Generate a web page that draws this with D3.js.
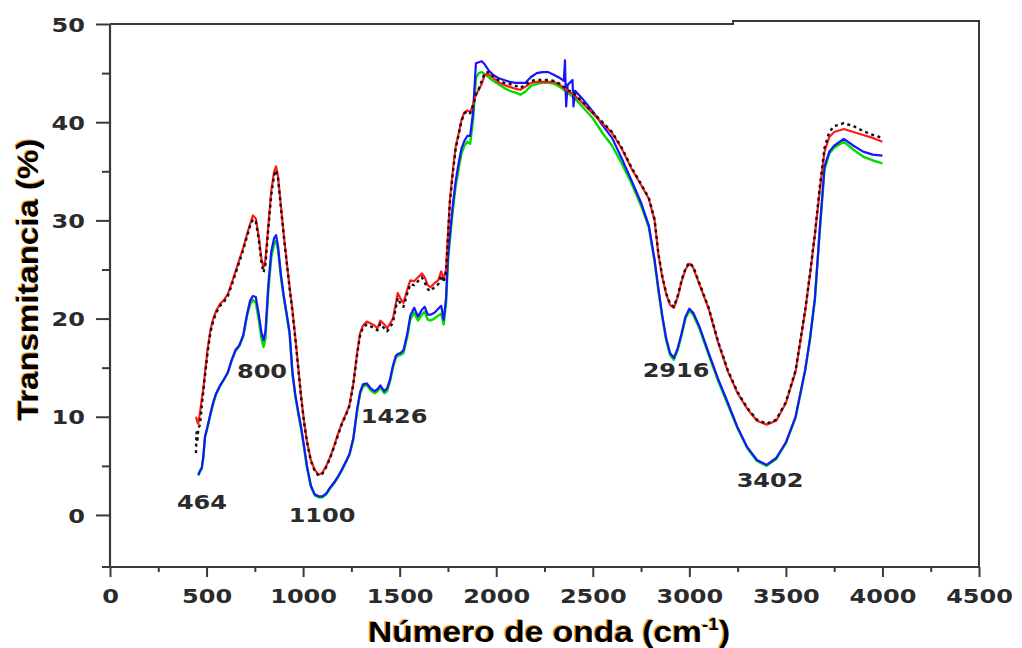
<!DOCTYPE html>
<html>
<head>
<meta charset="utf-8">
<script src="https://cdn.jsdelivr.net/npm/d3@7"></script>
<style>
  body { margin: 0; background: #fff; }
  .tick-label { font-family: "DejaVu Sans", Verdana, sans-serif; font-weight: bold; font-size: 20px; fill: #2b2b2b; }
  .title { font-family: "Liberation Sans", Arial, sans-serif; font-weight: bold; font-size: 30px; }
</style>
</head>
<body>
<svg id="chart" width="1022" height="648"></svg>
<script>
// Wavenumbers (cm-1) shared by the four spectra
const wavenumbers = [445, 448, 452, 457, 466, 475, 483, 492, 505, 520, 535, 550, 570, 590, 610, 630, 650, 670, 690, 710,
    725, 740, 755, 770, 785, 795, 805, 820, 835, 850, 860, 870, 885, 900, 915, 930, 945, 960, 975, 990,
    1005, 1020, 1040, 1060, 1080, 1100, 1120, 1140, 1160, 1180, 1200, 1220, 1240, 1260, 1280, 1295, 1310, 1330, 1350, 1370,
    1385, 1400, 1420, 1435, 1450, 1465, 1480, 1490, 1505, 1520, 1540, 1555, 1575, 1595, 1615, 1630, 1645, 1660, 1680, 1700,
    1715, 1728, 1740, 1750, 1760, 1775, 1790, 1805, 1820, 1835, 1850, 1865, 1880, 1895, 1910, 1925, 1940, 1960, 1985, 2010,
    2040, 2070, 2100, 2125, 2150, 2180, 2210, 2240, 2270, 2300, 2330, 2350, 2356, 2362, 2370, 2395, 2400, 2408, 2450, 2500,
    2550, 2600, 2650, 2700, 2750, 2790, 2820, 2840, 2860, 2880, 2900, 2920, 2940, 2960, 2980, 3000, 3020, 3050, 3100, 3150,
    3200, 3250, 3300, 3350, 3400, 3450, 3500, 3550, 3600, 3625, 3650, 3675, 3700, 3725, 3750, 3800, 3850, 3900, 3950, 4000];

// Transmittance (%) of each sample
const red = [10.0, 9.8, 9.5, 9.3, 10.4, 11.8, 12.8, 14.5, 16.8, 18.8, 20.0, 20.8, 21.5, 21.9, 22.5, 23.6, 24.8, 26.0, 27.2, 28.6,
    29.6, 30.5, 30.2, 28.4, 26.0, 25.2, 26.0, 29.5, 33.0, 35.0, 35.5, 34.5, 31.5, 28.5, 25.8, 23.2, 20.8, 18.0, 15.0, 12.0,
    9.5, 7.5, 5.6, 4.6, 4.1, 4.3, 5.0, 5.9, 7.0, 8.2, 9.3, 10.2, 11.2, 13.4, 16.5, 18.5, 19.3, 19.7, 19.5, 19.3,
    19.0, 19.8, 19.4, 19.0, 19.5, 20.0, 21.5, 22.6, 22.0, 21.6, 23.0, 23.9, 23.8, 24.2, 24.6, 24.2, 23.4, 23.2, 23.6, 23.9,
    24.8, 24.0, 25.0, 28.5, 32.0, 35.0, 37.5, 38.8, 40.2, 41.0, 41.2, 41.0, 41.8, 42.8, 43.3, 43.9, 44.8, 44.9, 44.5, 44.1,
    43.8, 43.6, 43.4, 43.3, 43.6, 44.0, 44.1, 44.1, 44.1, 44.1, 43.8, 43.5, 43.4, 43.3, 43.2, 42.9, 42.8, 42.7, 41.9, 40.9,
    39.9, 38.9, 37.3, 35.3, 33.6, 32.2, 30.0, 26.5, 24.2, 22.5, 21.4, 21.1, 22.2, 23.8, 25.0, 25.6, 25.2, 23.6, 21.0, 17.5,
    14.6, 12.4, 10.8, 9.6, 9.2, 9.6, 11.4, 14.6, 20.8, 24.5, 28.5, 33.0, 37.0, 38.5, 39.0, 39.3, 39.0, 38.7, 38.4, 38.0];

const black = [6.3, 8.4, 7.4, 8.8, 9.2, 11.0, 12.6, 14.2, 16.5, 18.6, 19.8, 20.6, 21.3, 21.7, 22.3, 23.4, 24.6, 25.8, 27.0, 28.4,
    29.4, 30.1, 29.9, 28.1, 25.6, 24.7, 25.5, 29.2, 32.6, 34.6, 35.1, 34.3, 31.3, 28.4, 25.7, 23.1, 20.7, 17.9, 14.9, 11.9,
    9.4, 7.4, 5.5, 4.5, 4.0, 4.2, 4.9, 5.8, 6.9, 8.1, 9.2, 10.1, 11.1, 13.3, 16.4, 18.3, 19.1, 19.4, 19.2, 19.0,
    18.8, 19.5, 19.0, 18.7, 19.1, 19.6, 21.1, 22.1, 21.5, 21.2, 22.6, 23.5, 23.4, 23.8, 24.2, 23.7, 23.0, 22.8, 23.2, 23.5,
    24.4, 23.7, 24.8, 28.3, 31.8, 34.8, 37.3, 38.7, 40.1, 40.9, 41.1, 40.9, 41.7, 42.8, 43.4, 44.2, 45.0, 45.1, 44.7, 44.3,
    44.0, 43.9, 43.7, 43.5, 43.8, 44.2, 44.3, 44.3, 44.3, 44.2, 43.9, 43.6, 43.5, 43.4, 43.3, 43.0, 42.9, 42.8, 42.0, 41.0,
    40.0, 39.0, 37.4, 35.4, 33.7, 32.3, 30.1, 26.6, 24.3, 22.6, 21.5, 21.2, 22.3, 23.9, 25.1, 25.7, 25.3, 23.7, 21.1, 17.6,
    14.7, 12.5, 10.9, 9.7, 9.3, 9.7, 11.5, 14.7, 20.9, 24.6, 28.6, 33.3, 37.4, 39.0, 39.6, 39.9, 39.6, 39.1, 38.7, 38.4];

const blue = [null, null, null, 4.1, 4.5, 4.8, 5.9, 8.0, 9.0, 10.3, 11.5, 12.4, 13.2, 13.8, 14.5, 15.8, 16.8, 17.3, 18.3, 20.5,
    21.8, 22.3, 22.2, 20.5, 18.5, 17.8, 18.7, 23.5, 26.8, 28.2, 28.5, 27.4, 24.5, 22.3, 20.5, 18.6, 14.5, 12.2, 10.5, 8.9,
    7.0, 5.0, 3.0, 2.1, 1.9, 1.9, 2.2, 2.8, 3.3, 3.9, 4.6, 5.4, 6.2, 7.8, 10.8, 12.5, 13.3, 13.4, 12.9, 12.6,
    12.8, 13.2, 12.6, 12.9, 13.8, 15.2, 16.2, 16.4, 16.5, 16.8, 18.5, 20.3, 21.1, 20.2, 20.9, 21.2, 20.4, 20.4, 20.6, 21.0,
    21.3, 19.9, 22.0, 26.3, 28.5, 31.5, 34.0, 35.8, 37.3, 38.1, 38.6, 38.6, 41.0, 46.0, 46.1, 46.2, 45.9, 45.3, 44.8, 44.5,
    44.3, 44.1, 44.0, 44.0, 44.0, 44.6, 45.0, 45.1, 45.1, 44.8, 44.5, 44.2, 46.3, 41.6, 43.8, 44.3, 41.6, 43.2, 42.3, 41.1,
    39.7, 38.4, 36.3, 34.1, 31.8, 29.5, 26.0, 23.0, 20.3, 18.0, 16.5, 16.0, 17.0, 18.5, 20.2, 21.0, 20.6, 19.3, 16.5, 13.8,
    11.4, 8.9, 6.9, 5.6, 5.1, 5.8, 7.4, 10.0, 14.8, 18.0, 22.0, 29.0, 35.5, 37.0, 37.6, 38.3, 37.6, 37.0, 36.7, 36.6];

const green = [null, null, null, 4.0, 4.4, 4.7, 5.8, 7.9, 8.9, 10.2, 11.4, 12.3, 13.1, 13.8, 14.5, 15.7, 16.7, 17.2, 18.2, 20.3,
    21.4, 21.9, 21.6, 19.9, 17.9, 17.1, 18.0, 22.8, 26.2, 27.6, 27.9, 27.0, 24.2, 22.1, 20.3, 18.4, 14.3, 12.0, 10.3, 8.7,
    6.8, 4.8, 2.9, 2.0, 1.8, 1.8, 2.1, 2.7, 3.2, 3.8, 4.5, 5.3, 6.1, 7.7, 10.6, 12.3, 13.1, 13.2, 12.7, 12.4,
    12.6, 13.0, 12.4, 12.6, 13.6, 15.0, 16.0, 16.2, 16.3, 16.5, 18.2, 19.9, 20.6, 19.8, 20.4, 20.7, 19.9, 19.8, 20.0, 20.3,
    20.5, 19.4, 21.5, 25.8, 28.0, 31.0, 33.5, 35.2, 36.8, 37.6, 38.0, 37.8, 40.2, 44.5, 45.0, 45.1, 44.9, 44.6, 44.2, 43.9,
    43.5, 43.2, 43.0, 42.8, 43.1, 43.7, 43.9, 44.0, 44.0, 43.9, 43.6, 43.3, 43.2, 43.1, 43.0, 42.6, 42.5, 42.4, 41.5, 40.4,
    38.9, 37.6, 35.8, 33.8, 31.5, 29.3, 25.8, 22.8, 20.1, 17.8, 16.3, 15.8, 16.8, 18.3, 20.0, 20.8, 20.4, 19.1, 16.3, 13.6,
    11.2, 8.8, 6.8, 5.5, 5.0, 5.7, 7.3, 9.9, 14.7, 17.9, 21.9, 28.8, 35.2, 36.8, 37.4, 38.0, 37.2, 36.5, 36.1, 35.8];

// Axis ticks
const xTicks = [0, 500, 1000, 1500, 2000, 2500, 3000, 3500, 4000, 4500];
const xMinorTicks = [250, 750, 1250, 1750, 2250, 2750, 3250, 3750, 4250];
const yTicks = [0, 10, 20, 30, 40, 50];
const yMinorTicks = [5, 15, 25, 35, 45];

// Band labels (text and the spot in data units where each sits)
const peakLabels = ["464", "800", "1100", "1426", "2916", "3402"];
const peakX = [476, 787, 1098, 1471, 2931, 3418];
const peakY = [1.3, 14.7, 0.0, 10.1, 14.8, 3.6];

const svg = d3.select("#chart");
const x = d3.scaleLinear().domain([0, 4500]).range([110, 979]);
const y = d3.scaleLinear().domain([-5.3, 50]).range([567, 24]);
const frameColor = "#3a3a3a";
const stretch = 1.2;

// Frame (top edge has a small step like the original)
svg.append("path")
    .attr("d", `M${x(0)},${y(50)} H733 V21 H${x(4500)} V${y(-5.3)}`)
    .attr("fill", "none").attr("stroke", frameColor).attr("stroke-width", 2);
svg.append("path")
    .attr("d", `M${x(0)},${y(50)} V${y(-5.3)} M102,${y(-5.3)} H${x(4500)}`)
    .attr("fill", "none").attr("stroke", frameColor).attr("stroke-width", 2.2);

// X axis
let xAxis = svg.append("g")
    .attr("transform", `translate(0,${y(-5.3)})`)
    .call(d3.axisBottom(x).tickValues(xTicks).tickSize(10).tickFormat(d3.format("d")));
svg.append("g")
    .attr("transform", `translate(0,${y(-5.3)})`)
    .call(d3.axisBottom(x).tickValues(xMinorTicks).tickSize(5).tickFormat(""));

// Y axis
let yAxis = svg.append("g")
    .attr("transform", `translate(${x(0)},0)`)
    .call(d3.axisLeft(y).tickValues(yTicks).tickSize(14).tickFormat(d3.format("d")));
svg.append("g")
    .attr("transform", `translate(${x(0)},0)`)
    .call(d3.axisLeft(y).tickValues(yMinorTicks).tickSize(8).tickFormat(""));

svg.selectAll(".domain").remove();
svg.selectAll(".tick line").attr("stroke", frameColor).attr("stroke-width", 2);

xAxis.selectAll("text")
    .attr("class", "tick-label")
    .attr("y", 36).attr("dy", null)
    .attr("transform", `scale(${stretch},1)`);
yAxis.selectAll("text")
    .attr("class", "tick-label")
    .attr("x", -25 / stretch).attr("dy", "0.36em")
    .attr("transform", `scale(${stretch},1)`);

// Spectra
const line = d3.line()
    .defined((d) => d[1] != null)
    .x((d) => x(d[0]))
    .y((d) => y(d[1]));

const series = [
    { values: green, color: "#00dd00", width: 2.4, dash: null },
    { values: blue, color: "#1515ff", width: 2.2, dash: null },
    { values: red, color: "#ff1a1a", width: 2.2, dash: null },
    { values: black, color: "#111111", width: 2.4, dash: "3,3.5" }
];
series.forEach((s) => {
    svg.append("path")
        .datum(d3.zip(wavenumbers, s.values))
        .attr("d", line)
        .attr("fill", "none")
        .attr("stroke", s.color)
        .attr("stroke-width", s.width)
        .attr("stroke-dasharray", s.dash)
        .attr("stroke-linejoin", "round");
});

// Band labels
svg.selectAll("text.peak")
    .data(peakLabels)
    .enter()
    .append("text")
    .attr("class", "tick-label peak")
    .attr("text-anchor", "middle")
    .attr("dy", "0.36em")
    .attr("transform", (d, i) => `translate(${x(peakX[i])},${y(peakY[i])}) scale(${stretch},1)`)
    .text((d) => d);

// Axis titles, with the orange fringe of the original drawn under the black text
function addTitle(tx, ty, rotate, sx, build) {
    [["#f0a030", -1.2, -1], ["#000", 0, 0]].forEach(([color, ox, oy]) => {
        let t = svg.append("text")
            .attr("class", "title")
            .attr("fill", color)
            .attr("text-anchor", "middle")
            .attr("transform", `translate(${tx + ox},${ty + oy}) rotate(${rotate}) scale(${sx},1)`);
        build(t);
    });
}
addTitle(38, 280, -90, 1.1, (t) => t.text("Transmitancia (%)"));
addTitle(549, 642, 0, 1.12, (t) => {
    t.append("tspan").text("Número de onda (cm");
    t.append("tspan").attr("font-size", "17px").attr("dy", "-12").text("-1");
    t.append("tspan").attr("dy", "12").text(")");
});
</script>
</body>
</html>
